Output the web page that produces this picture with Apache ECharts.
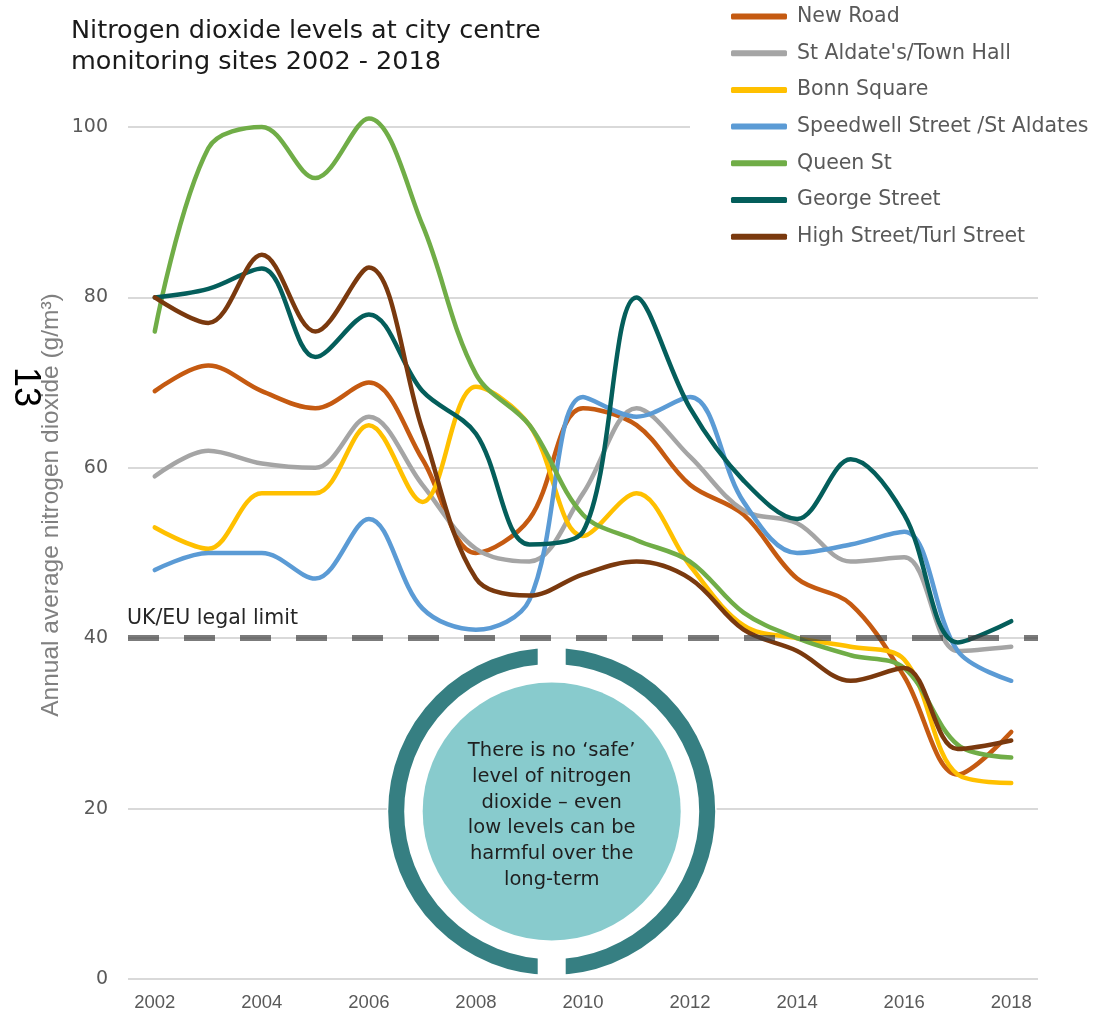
<!DOCTYPE html>
<html>
<head>
<meta charset="utf-8">
<script src="https://cdn.jsdelivr.net/npm/echarts@6/dist/echarts.min.js"></script>
<style>
html,body{margin:0;padding:0;background:#fff;}
#chart{width:1099px;height:1017px;}
</style>
</head>
<body>
<div id="chart"></div>
<script>
var years = ['2002','2003','2004','2005','2006','2007','2008','2009','2010','2011','2012','2013','2014','2015','2016','2017','2018'];
var yTicks = [0, 20, 40, 60, 80, 100];
var newRoad   = [69, 72, 69, 67, 70, 61, 50, 54, 67, 65, 58, 54.5, 47, 44, 35.5, 24, 29];
var stAldates = [59, 62, 60.5, 60, 66, 58, 50.5, 49, 57, 67, 61.3, 55, 53.5, 49, 49.5, 38.5, 39];
var bonnSquare= [53, 50.5, 57, 57, 65, 56, 69.5, 65, 52, 57, 48.5, 41.5, 40, 39, 37.5, 24, 23];
var speedwell = [48, 50, 50, 47, 54, 43.5, 41, 44.5, 68.3, 66, 68.3, 56, 50, 51, 52.5, 38.5, 35];
var queenSt   = [76, 97.5, 100, 94, 101, 88.5, 71, 65, 54.5, 51.5, 49, 43, 40, 38, 36.5, 27.5, 26];
var georgeSt  = [80, 81, 83.4, 73, 78, 69, 64, 51, 52.5, 80, 67, 58.5, 54, 61, 54.5, 39.5, 42];
var highSt    = [80, 77, 85, 76, 83.5, 64.5, 47, 45, 47.5, 49, 47, 41, 38.5, 35, 36.5, 27, 28];
var legalLimit = 40;
var seriesNames = ['New Road', "St Aldate's/Town Hall", 'Bonn Square', 'Speedwell Street /St Aldates', 'Queen St', 'George Street', 'High Street/Turl Street'];
var seriesData = [newRoad, stAldates, bonnSquare, speedwell, queenSt, georgeSt, highSt];
var seriesColors = ['#C55A11', '#A5A5A5', '#FFC000', '#5B9BD5', '#70AD47', '#045E5B', '#7A390E'];

var chart = echarts.init(document.getElementById('chart'), null, {renderer: 'canvas'});

var series = seriesNames.map(function (n, i) {
  return {
    name: n, type: 'line', data: seriesData[i], smooth: 0.35, symbol: 'none', clip: false,
    lineStyle: {color: seriesColors[i], width: 4.5, cap: 'round', join: 'round'},
    itemStyle: {color: seriesColors[i]}
  };
});
series[0].markLine = {
  silent: true, symbol: 'none', z: 6,
  lineStyle: {color: 'rgba(60,60,60,0.68)', width: 6, type: [31, 25]},
  label: {show: false},
  data: [{yAxis: legalLimit}]
};

var cx = 551.7, cy = 811.5;
var font = '"DejaVu Sans", "Open Sans", sans-serif';

chart.setOption({
  backgroundColor: '#fff',
  animation: false,
  title: {
    text: 'Nitrogen dioxide levels at city centre\nmonitoring sites 2002 - 2018',
    left: 66, top: 11,
    textStyle: {fontFamily: font, fontSize: 25.5, fontWeight: 'normal', color: '#1a1a1a', lineHeight: 31}
  },
  legend: {
    orient: 'vertical', left: 690, top: 0,
    padding: [6, 4, 6, 41],
    backgroundColor: '#fff',
    itemWidth: 56, itemHeight: 6, itemGap: 15.7,
    icon: 'roundRect',
    textStyle: {fontFamily: font, fontSize: 20.5, color: '#595959', lineHeight: 20, padding: [0, 0, 0, 5]},
    data: seriesNames
  },
  grid: {left: 128, right: 61, top: 127, bottom: 38, containLabel: false},
  xAxis: {
    type: 'category', data: years, boundaryGap: true,
    axisLine: {show: false}, axisTick: {show: false},
    axisLabel: {interval: 1, margin: 14, fontFamily: '"Liberation Sans Narrow", "Liberation Sans", sans-serif', fontSize: 18.5, color: '#595959'}
  },
  yAxis: {
    type: 'value', min: yTicks[0], max: yTicks[yTicks.length - 1], interval: 20,
    axisLine: {show: false}, axisTick: {show: false},
    splitLine: {lineStyle: {color: '#D9D9D9', width: 2}},
    axisLabel: {margin: 20, fontFamily: font, fontSize: 19, color: '#595959'}
  },
  series: series,
  graphic: [
    {type: 'text', z: 10, rotation: Math.PI / 2, x: 51, y: 505,
      style: {text: 'Annual average nitrogen dioxide (g/m\u00B3)', x: 0, y: 0, textAlign: 'center', textVerticalAlign: 'middle',
        font: '24.5px "Liberation Sans", sans-serif', fill: '#808080'}},
    {type: 'text', z: 10, rotation: -Math.PI / 2, x: 25, y: 387,
      style: {text: '13', x: 0, y: 0, textAlign: 'center', textVerticalAlign: 'middle',
        font: '36px "Liberation Sans", sans-serif', fill: '#000'}},
    {type: 'text', z: 10, x: 127, y: 619,
      style: {text: 'UK/EU legal limit', textAlign: 'left', textVerticalAlign: 'middle',
        font: '20.5px ' + font, fill: '#262626'}},
    {type: 'circle', z: 10, shape: {cx: cx, cy: cy, r: 165}, style: {fill: '#fff'}},
    {type: 'circle', z: 11, shape: {cx: cx, cy: cy, r: 155.5}, style: {fill: null, stroke: '#367F82', lineWidth: 16}},
    {type: 'rect', z: 12, shape: {x: cx - 14, y: cy - 168, width: 28, height: 24}, style: {fill: '#fff'}},
    {type: 'rect', z: 12, shape: {x: cx - 14, y: cy + 144, width: 28, height: 22}, style: {fill: '#fff'}},
    {type: 'circle', z: 13, shape: {cx: cx, cy: cy, r: 129}, style: {fill: '#88CBCD'}},
    {type: 'text', z: 14, x: cx, y: cy + 4,
      style: {text: 'There is no \u2018safe\u2019\nlevel of nitrogen\ndioxide \u2013 even\nlow levels can be\nharmful over the\nlong-term',
        textAlign: 'center', textVerticalAlign: 'middle', lineHeight: 25.7,
        font: '19.5px ' + font, fill: '#1f1f1f'}}
  ]
});
</script>
</body>
</html>
